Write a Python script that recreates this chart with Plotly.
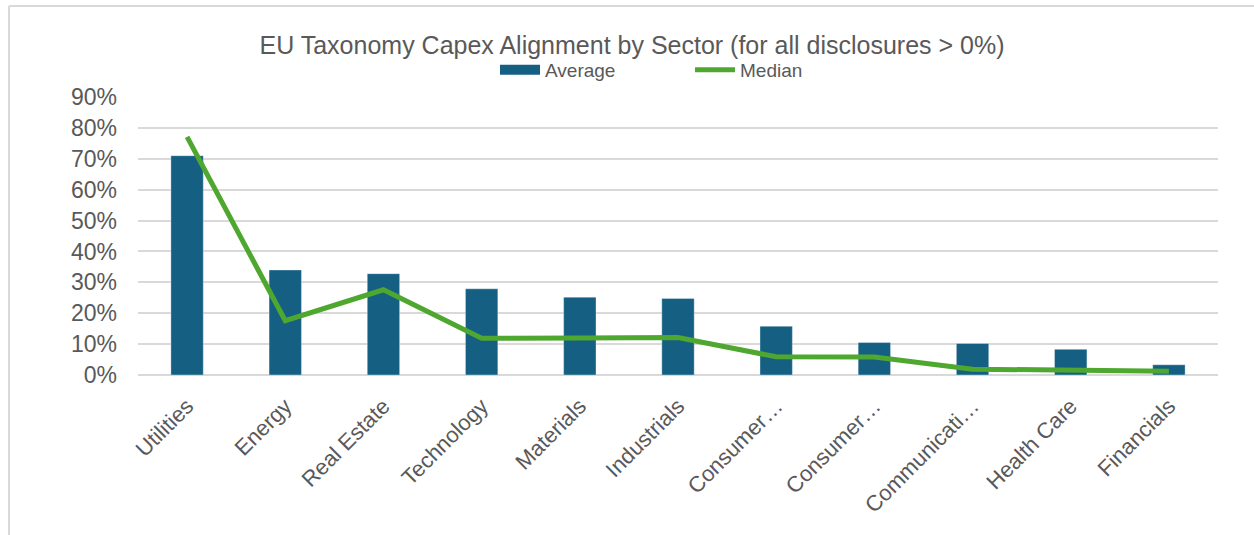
import plotly.graph_objects as go

sectors = ["Utilities", "Energy", "Real Estate", "Technology", "Materials", "Industrials",
           "Consumer…", "Consumer…", "Communicati…", "Health Care", "Financials"]
average = [71.0, 34.0, 32.8, 27.9, 25.2, 24.8, 15.8, 10.5, 10.2, 8.3, 3.3]
median = [77.1, 17.6, 27.6, 11.9, 12.0, 12.1, 5.9, 5.8, 1.9, 1.4, 1.2]
y_ticks = [0, 10, 20, 30, 40, 50, 60, 70, 80, 90]
y_tick_labels = [f"{v}%" for v in y_ticks]

positions = list(range(len(sectors)))

W, H = 1254, 535
L, R, T, B = 138, 36, 97, 160
pw, ph = W - L - R, H - T - B

def px_x(p):
    return (p - L) / pw

def px_y(p):
    return (H - B - p) / ph

font = "Liberation Sans, Arial, sans-serif"
grey = "#595959"
bar_color = "#156082"
line_color = "#4EA72E"

fig = go.Figure()
fig.add_trace(go.Bar(
    x=positions, y=average, name="Average", showlegend=False, legendgroup="avg",
    marker=dict(color=bar_color, line=dict(color="rgba(255,255,255,0.35)", width=1)),
))
# legend swatch for the bar series (wide rectangle like the reference)
fig.add_trace(go.Scatter(
    x=[None], y=[None], name="Average", mode="lines", legendgroup="avg",
    line=dict(color=bar_color, width=12),
))
fig.add_trace(go.Scatter(
    x=positions, y=median, name="Median", mode="lines",
    line=dict(color=line_color, width=5),
))

fig.update_layout(
    width=W, height=H,
    margin=dict(l=L, r=R, t=T, b=B, autoexpand=False),
    paper_bgcolor="white", plot_bgcolor="white",
    bargap=0.67,
    title=dict(text="EU Taxonomy Capex Alignment by Sector (for all disclosures > 0%)",
               x=632 / W, xref="container", xanchor="center",
               y=1 - 45 / H, yanchor="middle",
               font=dict(family=font, size=25, color=grey)),
    legend=dict(orientation="h", x=px_x(690), xanchor="center", y=px_y(70), yanchor="middle",
                font=dict(family=font, size=19, color=grey),
                entrywidth=140, itemwidth=40, bgcolor="rgba(0,0,0,0)"),
    font=dict(family=font, color=grey),
    xaxis=dict(tickangle=-45, tickfont=dict(family=font, size=22, color=grey),
               tickvals=positions, ticktext=sectors,
               showgrid=False, showline=False, ticks="", range=[-0.5, 10.5],
               ticklabelstandoff=13),
    yaxis=dict(range=[0, 90], tickvals=y_ticks, ticktext=y_tick_labels,
               tickfont=dict(family=font, size=23, color=grey),
               showgrid=True, gridcolor="#d9d9d9", gridwidth=2,
               zeroline=True, zerolinecolor="#d9d9d9", zerolinewidth=2,
               showline=False, ticks="", ticklabelstandoff=20),
    shapes=[
        dict(type="line", xref="paper", yref="paper", x0=px_x(9), x1=px_x(1260),
             y0=px_y(6), y1=px_y(6), line=dict(color="#d9d9d9", width=2)),
        dict(type="line", xref="paper", yref="paper", x0=px_x(9), x1=px_x(9),
             y0=px_y(6), y1=px_y(540), line=dict(color="#d9d9d9", width=2)),
    ],
)

fig.write_html("out.html")
